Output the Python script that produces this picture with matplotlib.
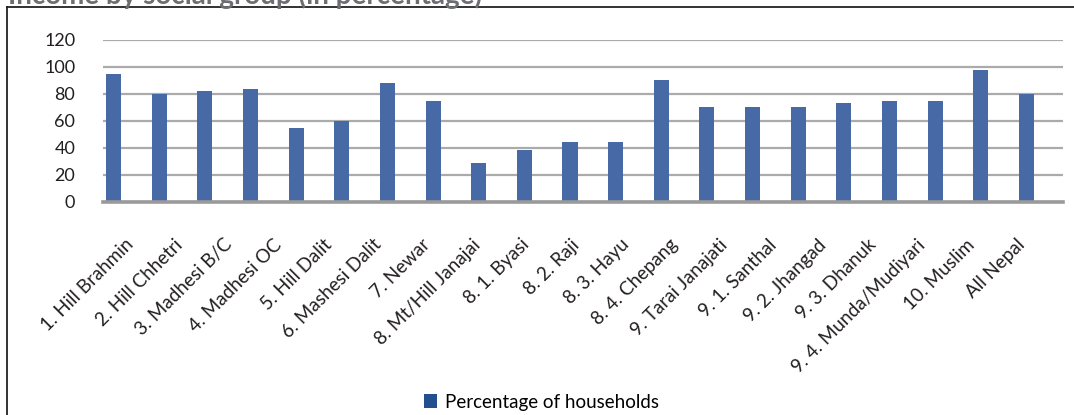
import matplotlib
matplotlib.use("Agg")
import matplotlib.pyplot as plt
from matplotlib.patches import Patch
from matplotlib.lines import Line2D
import numpy as np

# ---- data ----
bar_values = [95, 80, 82, 84, 55, 60, 88, 75, 29, 38, 44, 44, 90, 70, 70, 70, 73, 75, 75, 98, 80]
tick_labels = ["1. Hill Brahmin", "2. Hill Chhetri", "3. Madhesi B/C", "4. Madhesi OC",
               "5. Hill Dalit", "6. Mashesi Dalit", "7. Newar", "8. Mt/Hill Janajai",
               "8. 1. Byasi", "8. 2. Raji", "8. 3. Hayu", "8. 4. Chepang",
               "9. Tarai Janajati", "9. 1. Santhal", "9. 2. Jhangad", "9. 3. Dhanuk",
               "9. 4. Munda/Mudiyari", "10. Muslim", "All Nepal"]
y_ticks = [0, 20, 40, 60, 80, 100, 120]
series_name = "Percentage of households"
title = "Income by social group (in percentage)"

FONT = "Lato"
plt.rcParams["font.family"] = [FONT, "DejaVu Sans"]

W, H = 1074, 415
fig = plt.figure(figsize=(W / 100, H / 100), dpi=100)
left, right, top, bottom = 103, 1063, 40, 201.7
ax = fig.add_axes([left / W, 1 - bottom / H, (right - left) / W, (bottom - top) / H])

x = np.arange(len(bar_values))
ax.bar(x, bar_values, width=0.33, color="#4769A6", zorder=3)
ax.set_xlim(-0.23, 20.8)
ax.set_ylim(0, 120)
ax.set_yticks(y_ticks)
ax.set_yticklabels([str(v) for v in y_ticks])
ax.tick_params(axis="y", length=0, pad=20, labelsize=13, labelcolor="#231F20")
ax.set_xticks([])
ax.grid(axis="y", color="#ABABAB", linewidth=1.6, zorder=0)
for s in ["top", "right", "left"]:
    ax.spines[s].set_visible(False)
ax.spines["bottom"].set_color("#9A9A9A")
ax.spines["bottom"].set_linewidth(2.6)
ax.spines["bottom"].set_zorder(4)

# category labels on their own axis (19 labels spread across the plot)
ax2 = ax.twiny()
ax2.set_xlim(-0.56, 18.83)
ax2.xaxis.set_ticks_position("bottom")
ax2.set_xticks(np.arange(len(tick_labels)))
ax2.set_xticklabels(tick_labels, rotation=45, ha="right", va="center",
                    rotation_mode="anchor", fontsize=13.5, color="#231F20")
ax2.tick_params(axis="x", length=0, pad=29)
for s in ax2.spines.values():
    s.set_visible(False)

# legend
handle = Patch(facecolor="#22508F", edgecolor="none")
fig.legend([handle], [series_name], loc="center", bbox_to_anchor=(0.504, 0.031),
           frameon=False, fontsize=13.5, handlelength=0.7, handleheight=0.75,
           handletextpad=0.4, borderpad=0, borderaxespad=0)

# frame lines
fig.add_artist(Line2D([7 / W, 7 / W], [0, 1 - 7.5 / H], color="#222222", linewidth=1.3,
                      transform=fig.transFigure))
fig.add_artist(Line2D([7 / W, 1], [1 - 7.5 / H, 1 - 7.5 / H], color="#222222", linewidth=1.3,
                      transform=fig.transFigure))

# cut-off title
fig.text(8 / W, 1 - 4 / H, title, fontsize=20, fontweight="bold", color="#6D6E71",
         ha="left", va="baseline")

fig.savefig("out.png", dpi=100, facecolor="white")
